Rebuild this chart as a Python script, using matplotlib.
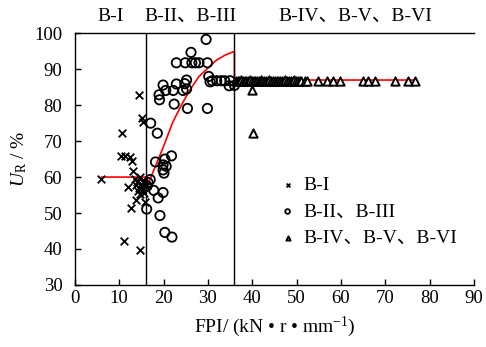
import matplotlib
matplotlib.use('Agg')
import matplotlib.pyplot as plt

plt.rcParams['font.family'] = ['Liberation Serif', 'Noto Sans CJK SC']
plt.rcParams['mathtext.fontset'] = 'custom'
plt.rcParams['mathtext.rm'] = 'Liberation Serif'
plt.rcParams['mathtext.it'] = 'Liberation Serif:italic'
plt.rcParams['font.size'] = 13.5

# B-I (crosses)
b1_x = [6.0, 10.6, 10.5, 11.3, 12.4, 12.9, 13.1, 12.0, 12.6, 13.9, 11.1, 14.7, 15.8, 15.6,
        14.4, 15.1, 15.3, 13.5, 14.0, 14.5, 15.0, 15.5, 16.0, 14.2, 14.8, 15.2, 15.7, 13.8, 14.6]
b1_y = [59.4, 72.4, 65.9, 65.9, 65.6, 64.6, 61.8, 57.2, 51.5, 53.7, 42.2, 39.8, 53.2, 55.5,
        82.7, 76.4, 75.4, 59.5, 58.5, 57.0, 58.0, 59.0, 57.5, 56.0, 60.0, 56.5, 58.3, 57.8, 55.2]

# B-II, B-III (circles)
b23_x = [29.6, 26.2, 22.9, 24.9, 26.4, 27.2, 28.0, 29.9, 30.2, 32.0, 33.8, 35.0, 34.8, 25.2,
         24.8, 25.2, 19.9, 22.9, 20.5, 22.2, 24.4, 19.0, 19.1, 22.4, 25.4, 29.9, 17.1, 18.6,
         18.2, 20.3, 21.8, 19.9, 20.6, 19.9, 20.1, 17.8, 19.9, 18.8, 16.2, 19.2, 20.3, 21.9,
         16.5, 17.0, 16.3, 31.0, 30.5, 33.0, 36.0]
b23_y = [98.3, 94.7, 91.8, 91.8, 91.8, 91.8, 91.8, 91.8, 88.0, 86.8, 86.8, 86.8, 85.4, 87.0,
         86.0, 84.5, 85.6, 85.9, 84.1, 84.1, 84.1, 82.9, 81.5, 80.3, 79.1, 79.1, 75.0, 72.2,
         64.2, 65.0, 65.9, 63.4, 63.0, 62.0, 61.1, 56.3, 55.7, 54.2, 51.1, 49.3, 44.6, 43.3,
         58.5, 59.3, 57.5, 86.8, 86.5, 86.8, 85.5]

# B-IV, B-V, B-VI (triangles)
b456_x = [36.3, 36.7, 37.1, 37.5, 37.9, 38.3, 38.7, 39.1, 39.5, 39.9, 40.3, 40.7, 41.1, 41.5,
          41.9, 42.3, 42.7, 43.1, 43.5, 43.9, 44.3, 44.7, 45.1, 45.5, 45.9, 46.3, 46.7, 47.1,
          47.5, 47.9, 48.3, 48.7, 49.1, 49.5, 49.9, 50.3, 50.7, 51.1, 51.9, 52.4, 54.9,
          56.9, 58.3, 59.8, 64.9, 66.2, 67.7, 72.2, 75.2, 76.7, 40.0, 40.1]
b456_y = [86.8, 86.7, 86.8, 86.9, 86.8, 86.7, 86.8, 86.8, 86.9, 86.7, 86.8, 86.8, 86.7, 86.8,
          86.9, 86.8, 86.7, 86.8, 86.8, 86.9, 86.7, 86.8, 86.8, 86.7, 86.8, 86.8, 86.7, 86.8,
          86.9, 86.8, 86.7, 86.8, 86.8, 86.9, 86.7, 86.8, 86.8, 86.7, 86.8, 86.8, 86.6,
          86.6, 86.6, 86.6, 86.6, 86.6, 86.6, 86.6, 86.6, 86.6, 84.1, 72.2]

# fitted curve
fit_x = [6, 16, 16.3, 17, 18, 19, 20, 22, 24, 26, 28, 30, 32, 34, 36, 36, 77]
fit_y = [60, 60, 57.5, 59.5, 62.5, 65.5, 68.5, 75, 80, 84.3, 88, 90.3, 92.6, 94, 95, 87, 87]

zone_bounds = [16, 36]
zone_labels = ['B-I', 'B-II、B-III', 'B-IV、B-V、B-VI']
zone_label_x = [8, 26, 63.2]

fig = plt.figure(figsize=(4.86, 3.47), dpi=100)
ax = fig.add_axes([0.154, 0.179, 0.821, 0.725])

ax.plot(fit_x, fit_y, color='red', lw=1.2, zorder=1)
ax.scatter(b1_x, b1_y, marker='x', s=30, c='black', linewidths=1.3, label='B-I', zorder=3)
ax.scatter(b23_x, b23_y, marker='o', s=45, facecolors='none', edgecolors='black',
           linewidths=1.3, label='B-II、B-III', zorder=3)
ax.scatter(b456_x, b456_y, marker='^', s=36, facecolors='white', edgecolors='black',
           linewidths=1.4, label='B-IV、B-V、B-VI', zorder=3)

for b in zone_bounds:
    ax.axvline(b, color='black', lw=1, zorder=2)
for lab, lx in zip(zone_labels, zone_label_x):
    ax.text(lx, 102.3, lab, ha='center', va='bottom', fontsize=14)

ax.set_xlim(0, 90)
ax.set_ylim(30, 100)
ax.set_xticks(range(0, 91, 10))
ax.set_yticks(range(30, 101, 10))
ax.tick_params(direction='in', length=4, width=1, labelsize=13.5)
ax.tick_params(axis='y', pad=9)
ax.spines['right'].set_visible(False)
for s in ['left', 'bottom', 'top']:
    ax.spines[s].set_linewidth(1)

ax.set_xlabel('FPI/ (kN • r • mm$^{-1}$)', fontsize=14, labelpad=6)
ax.set_ylabel(r'$U_{\mathrm{R}}$ / %', fontsize=14, labelpad=4)

leg = ax.legend(loc='upper left', bbox_to_anchor=(0.465, 0.50), frameon=False,
                markerscale=0.5, handletextpad=0.3, labelspacing=0.45, fontsize=14,
                handlelength=1.0)

fig.savefig('out.png', dpi=100)
